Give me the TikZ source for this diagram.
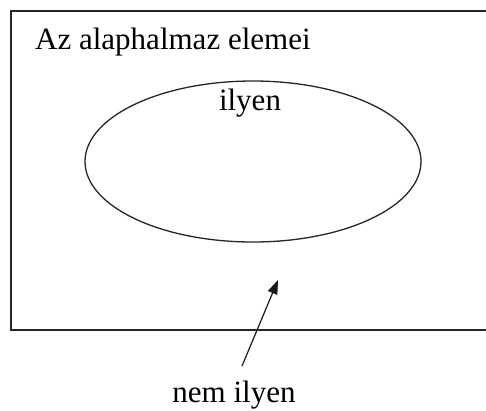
\documentclass[tikz,border=0pt]{standalone}
\usepackage{fontspec}
\setmainfont{Liberation Serif}
\usetikzlibrary{arrows.meta,shapes.geometric}
\begin{document}
\begin{tikzpicture}[x=1pt,y=-1pt,
  lbl/.style={font=\fontsize{31}{34}\selectfont, inner sep=0pt, anchor=base},
  frame/.style={draw=black!85, line width=1.3pt},
  setshape/.style={draw=black!85, line width=1.3pt},
  pointer/.style={draw=black!90, line width=1.2pt, -{Triangle[length=14pt,width=10pt]}}]
\useasboundingbox (0,0) rectangle (486,410);
\clip (0,0) rectangle (486,410);
\draw[frame] (11,11) rectangle (495,330);
\node[setshape, ellipse, minimum width=336pt, minimum height=161pt, inner sep=0pt] (set) at (253,161.5) {};
\node[lbl, anchor=base west] (title) at (35,49) {Az alaphalmaz elemei};
\node[lbl] (ilyen) at (250,110) {ilyen};
\node[lbl] (nem) at (234,402) {nem ilyen};
\coordinate (tail) at (242,366);
\coordinate (tip) at (278,280);
\draw[pointer] (tail) -- (tip);
\end{tikzpicture}
\end{document}
